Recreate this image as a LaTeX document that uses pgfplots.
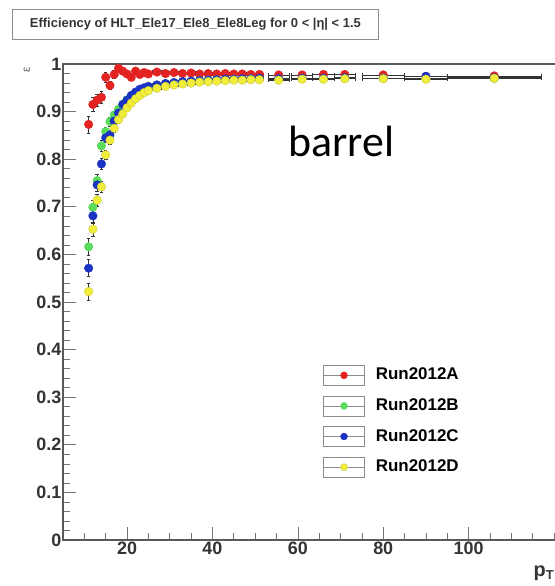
\documentclass[border=0pt]{standalone}
\usepackage{fontspec}
\setmainfont{Liberation Sans}
\newfontfamily\calibri{Carlito}
\usepackage{pgfplots}
\usepackage{pgfplotstable}
\pgfplotsset{compat=1.18}

\definecolor{runA}{HTML}{E32222}
\definecolor{runB}{HTML}{5BDB5B}
\definecolor{runC}{HTML}{1A33C2}
\definecolor{runD}{HTML}{F0EE3A}

% efficiency per pT bin, one column per run period
\pgfplotstableread{
x    ex   A     B     C     D     ey
11   0.5  0.873 0.616 0.571 0.522 0.018
12   0.5  0.915 0.699 0.681 0.653 0.015
13   0.5  0.924 0.755 0.746 0.714 0.013
14   0.5  0.930 0.828 0.790 0.742 0.012
15   0.5  0.972 0.858 0.845 0.809 0.010
16   0.5  0.955 0.879 0.851 0.840 0.009
17   0.5  0.978 0.893 0.880 0.865 0.008
18   0.5  0.991 0.905 0.897 0.883 0.007
19   0.5  0.985 0.915 0.915 0.895 0.006
20   0.5  0.979 0.925 0.924 0.908 0.005
21   0.5  0.972 0.932 0.934 0.918 0.004
22   0.5  0.985 0.939 0.941 0.927 0.004
23   0.5  0.978 0.944 0.947 0.934 0.004
24   0.5  0.982 0.948 0.950 0.940 0.004
25   0.5  0.979 0.951 0.953 0.944 0.004
27   1    0.983 0.955 0.956 0.949 0.003
29   1    0.980 0.958 0.959 0.953 0.003
31   1    0.982 0.960 0.961 0.956 0.003
33   1    0.980 0.962 0.963 0.958 0.003
35   1    0.981 0.963 0.964 0.960 0.003
37   1    0.979 0.965 0.965 0.962 0.003
39   1    0.980 0.966 0.966 0.963 0.003
41   1    0.979 0.967 0.967 0.964 0.003
43   1    0.980 0.967 0.968 0.965 0.003
45   1    0.979 0.968 0.968 0.966 0.003
47   1    0.979 0.968 0.969 0.966 0.003
49   1    0.978 0.969 0.969 0.967 0.003
51   1    0.978 0.969 0.970 0.967 0.003
55.5 2.5  0.977 0.968 0.969 0.966 0.004
61   2.5  0.977 0.970 0.970 0.968 0.004
66   2.5  0.978 0.969 0.970 0.968 0.004
71   2.5  0.978 0.970 0.971 0.969 0.004
80   5    0.977 0.970 0.970 0.969 0.005
90   5    0.974 0.969 0.974 0.968 0.006
106  11   0.975 0.970 0.971 0.970 0.006
}\effdata

\begin{document}
\begin{tikzpicture}[x=1bp,y=1bp]
  \useasboundingbox (0,0) rectangle (555,586);

  % title box
  \node[draw=black!45, line width=0.8bp, minimum width=366bp, minimum height=30bp,
        anchor=north west, inner sep=0pt]
    at (12,577) {\fontsize{13}{13}\selectfont\bfseries\color{black!80}%
      Efficiency of HLT\_Ele17\_Ele8\_Ele8Leg for 0 < |η| < 1.5};

  \begin{axis}[
      at={(63bp,46bp)}, anchor=south west,
      scale only axis,
      width=495.3bp, height=476bp,
      xmin=5, xmax=121, ymin=0, ymax=1,
      xtick={20,40,60,80,100},
      minor xtick={10,15,...,120},
      ytick={0,0.1,...,1.0},
      minor y tick num=4,
      xtick pos=left, ytick pos=left,
      tick align=inside,
      major tick length=13bp, minor tick length=7bp,
      tick style={black!55, line width=0.6bp},
      axis line style={black!65, line width=1.1bp},
      /pgf/number format/assume math mode=true,
      ticklabel style={font=\fontsize{18}{18}\selectfont\bfseries, text=black!80},
      yticklabel style={inner sep=1.5bp},
      xticklabel style={inner sep=2bp},
      legend style={draw=none, fill=none,
        at={(axis description cs:0.525,0.368)}, anchor=north west,
        font=\fontsize{17}{17}\selectfont\bfseries,
        row sep=10bp, column sep=11bp, inner sep=0pt,
        nodes={inner sep=0pt, text height=12bp, text depth=3bp}},
      legend cell align=left,
      legend image code/.code={
        \draw[black!45, line width=0.6bp] (0bp,-10bp) rectangle (41bp,10bp);
        \draw[black!45, line width=0.6bp] (0bp,0bp) -- (41bp,0bp);
        \draw[mark repeat=2, mark phase=2, #1, mark size=3.5bp]
          plot coordinates {(0bp,0bp) (20.5bp,0bp) (41bp,0bp)};
      },
      every axis plot/.append style={
        only marks, mark=*, mark size=4.3bp,
        error bars/x dir=both, error bars/x explicit,
        error bars/y dir=both, error bars/y explicit,
        error bars/error bar style={black!80, line width=0.6bp},
        error bars/error mark options={black!80, mark size=1.8bp, line width=0.6bp, rotate=90}},
    ]
    \addplot[mark options={fill=runA, draw=runA}]
      table[x=x, y=A, x error=ex, y error=ey] {\effdata};
    \addlegendentry{Run2012A}
    \addplot[mark options={fill=runB, draw=runB}]
      table[x=x, y=B, x error=ex, y error=ey] {\effdata};
    \addlegendentry{Run2012B}
    \addplot[mark options={fill=runC, draw=runC}]
      table[x=x, y=C, x error=ex, y error=ey] {\effdata};
    \addlegendentry{Run2012C}
    \addplot[mark options={fill=runD, draw=runD!85!black}]
      table[x=x, y=D, x error=ex, y error=ey] {\effdata};
    \addlegendentry{Run2012D}
  \end{axis}

  % axis titles as ROOT places them
  \node[rotate=90, text=black!60] at (27,516) {\fontsize{12}{12}\selectfont ε};
  \node[anchor=base east, inner sep=0pt] at (554,9)
    {\fontsize{20}{20}\selectfont\bfseries\color{black!80}p\raisebox{-3bp}{\fontsize{13}{13}\selectfont T}};

  % annotation
  \node[anchor=base west, inner sep=0pt] at (288,429)
    {\calibri\fontsize{44}{44}\selectfont barrel};
\end{tikzpicture}
\end{document}
